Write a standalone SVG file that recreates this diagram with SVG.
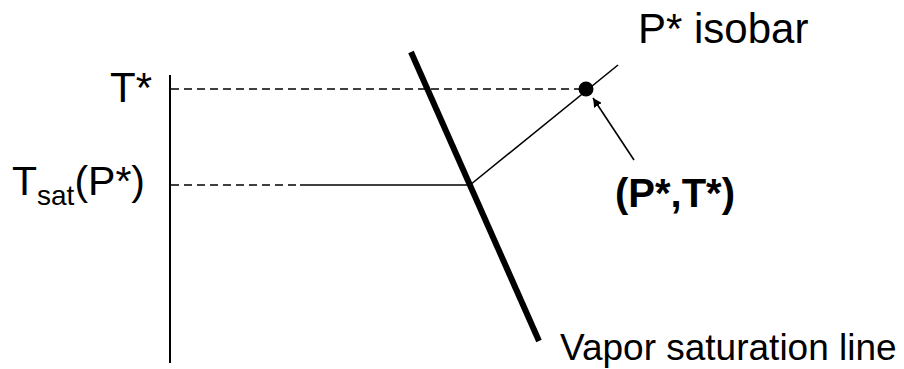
<svg xmlns="http://www.w3.org/2000/svg" width="904" height="369" viewBox="0 0 904 369">
<style>
text{font-family:"Liberation Sans",Arial,sans-serif;fill:#000}
.lbl{font-size:42px}
.thin{stroke:#000;stroke-width:1.6;fill:none}
.dash{stroke:#000;stroke-width:1.5;stroke-dasharray:8 5;fill:none}
</style>
<defs>
<marker id="ah" viewBox="0 0 10 10" refX="10" refY="5" markerWidth="9" markerHeight="9" markerUnits="userSpaceOnUse" orient="auto">
<path d="M0,0 L10,5 L0,10 z" fill="#000"/>
</marker>
</defs>
<rect width="904" height="369" fill="#fff"/>
<g id="axis">
<line x1="170" y1="75" x2="170" y2="363" stroke="#000" stroke-width="2"/>
</g>
<g id="connectors">
<line class="dash" x1="171" y1="89" x2="580" y2="89"/>
<line class="dash" x1="171" y1="185" x2="300" y2="185"/>
<line class="thin" x1="300" y1="185" x2="470" y2="185"/>
<line class="thin" x1="470" y1="185" x2="618" y2="65"/>
<line class="thin" x1="634" y1="160" x2="593" y2="98" marker-end="url(#ah)"/>
</g>
<g id="saturation-line">
<line x1="411" y1="52" x2="539" y2="341" stroke="#000" stroke-width="6"/>
<text x="560" y="360" font-size="37">Vapor saturation line</text>
</g>
<g id="point">
<circle cx="586" cy="89" r="7.5" fill="#000"/>
<text x="615" y="207" font-size="40" font-weight="bold">(P*,T*)</text>
</g>
<g id="isobar-label">
<text class="lbl" x="638" y="43">P* isobar</text>
</g>
<g id="tstar">
<text class="lbl" x="152" y="102" text-anchor="end">T*</text>
</g>
<g id="tsat">
<text x="12" y="195" font-size="41">T<tspan font-size="28" dy="10">sat</tspan><tspan dy="-10">(P*)</tspan></text>
</g>
</svg>
